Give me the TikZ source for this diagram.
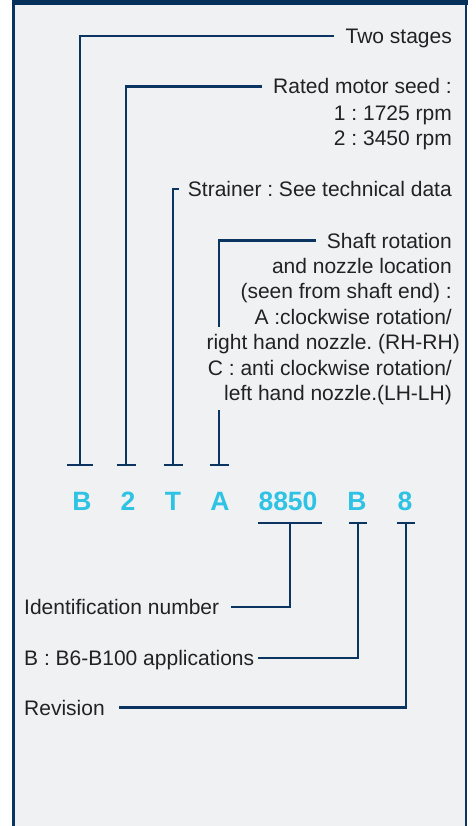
\documentclass[tikz,border=0pt]{standalone}
\usepackage{fontspec}
\setmainfont{Liberation Sans}
\usepackage{tikz}
\frenchspacing

\definecolor{navy}{HTML}{0B3560}
\definecolor{topbar}{HTML}{05305A}
\definecolor{panel}{HTML}{F0F1F3}
\definecolor{codecyan}{HTML}{2EC3E4}
\definecolor{ink}{HTML}{222222}

\tikzset{
  lead/.style={draw=navy, line width=2.2pt},
  lbl/.style={text=ink, font=\fontsize{21}{25.4}\selectfont, inner ysep=0pt, inner xsep=11pt, text height=15pt, text depth=0pt},
  info/.style={text=ink, font=\fontsize{21}{25.4}\selectfont, inner ysep=0pt, inner xsep=11pt, align=right},
  code/.style={text=codecyan, font=\bfseries\fontsize{26.5}{30}\selectfont, inner sep=0pt}
}

\begin{document}
\begin{tikzpicture}[x=1pt,y=1pt,yscale=-1,xscale=1]
\useasboundingbox (0,0) rectangle (475,826);
\fill[panel] (13.5,0) rectangle (466,826);
\draw[navy, line width=3pt] (13.5,0) -- (13.5,826);
\draw[navy, line width=2.5pt] (466,0) -- (466,826);
\fill[topbar] (12,0) rectangle (467.5,5);

% code letters
\node[code, anchor=base] (cB) at (82,510) {B};
\node[code, anchor=base] (c2) at (128,510) {2};
\node[code, anchor=base] (cT) at (173,510) {T};
\node[code, anchor=base] (cA) at (220,510) {A};
\node[code, anchor=base] (cnum) at (288,510) {8850};
\node[code, anchor=base] (cB2) at (357,510) {B};
\node[code, anchor=base] (c8) at (405,510) {8};

% upper labels
\node[lbl, anchor=east] (stages) at (463,36) {Two stages};
\node[lbl, anchor=east] (motor) at (463,86.5) {Rated motor seed :};
\node[info, anchor=north east] (motorinfo) at (463,105.5) {1 : 1725 rpm\\2 : 3450 rpm};
\node[lbl, anchor=east, inner xsep=9pt] (strainer) at (461,189) {Strainer : See technical data};
\node[lbl, anchor=east] (shaft) at (463,240.5) {Shaft rotation};
\node[info, anchor=north east] (shaftinfo) at (463,258) {and nozzle location\\(seen from shaft end) :\\A :clockwise rotation/\\right hand nozzle. (RH-RH)\kern-8pt\\C : anti clockwise rotation/\\left hand nozzle.(LH-LH)};

% lower labels
\node[lbl, anchor=west, inner xsep=12pt] (ident) at (12,607) {Identification number};
\node[lbl, anchor=west, inner xsep=4pt] (apps) at (20,658) {B : B6-B100 applications};
\node[lbl, anchor=west, inner xsep=14pt] (rev) at (10,707.5) {Revision};

% bar ends
\coordinate (tB) at (80,465);
\coordinate (t2) at (126,465);
\coordinate (tT) at (173,465);
\coordinate (tA) at (219,465);
\coordinate (gapA) at (219,327);
\coordinate (gapB) at (219,410);
\coordinate (bnum) at (290,523);
\coordinate (bB) at (358,523);
\coordinate (b8) at (406,523);

% upper leaders
\draw[lead] (stages.west) -| (tB);
\draw[lead] ([xshift=-13]tB) -- ([xshift=13]tB);
\draw[lead] (motor.west) -| (t2);
\draw[lead] ([xshift=-9.5]t2) -- ([xshift=9.5]t2);
\draw[lead] (strainer.west) -| (tT);
\draw[lead] ([xshift=-9.5]tT) -- ([xshift=9.5]tT);
\draw[lead] (shaft.west) -| (gapA);
\draw[lead] (gapB) -- (tA);
\draw[lead] ([xshift=-9.5]tA) -- ([xshift=9.5]tA);

% lower leaders
\draw[lead] ([xshift=-32]bnum) -- ([xshift=32]bnum);
\draw[lead] (bnum) |- (ident.east);
\draw[lead] ([xshift=-9]bB) -- ([xshift=9]bB);
\draw[lead] (bB) |- (apps.east);
\draw[lead] ([xshift=-9]b8) -- ([xshift=9]b8);
\draw[lead] (b8) |- (rev.east);
\end{tikzpicture}
\end{document}
